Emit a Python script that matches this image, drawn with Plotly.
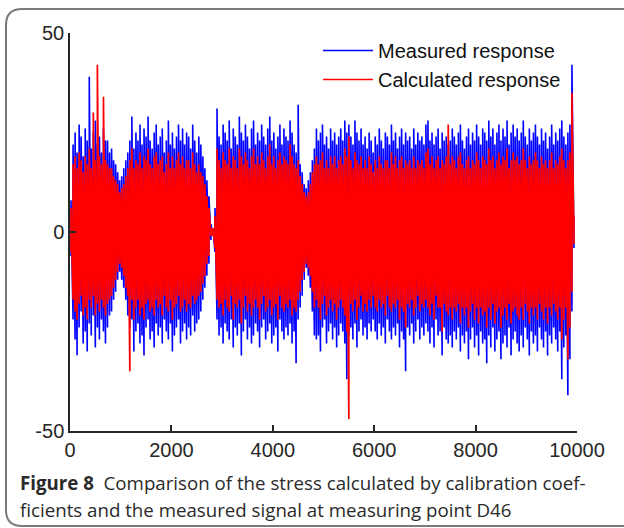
import plotly.graph_objects as go

# Each column covers 40 samples of the record; per column the highest and
# lowest value of each signal.
column_width = 40

measured_hi = [
    8, 22, 25, 20, 27, 24, 19, 26, 23, 39, 21, 25, 28, 22, 24, 20, 26, 23,
    23, 20, 21, 18, 17, 15, 13, 14, 16, 18,
    20, 23, 29, 21,
    25, 23, 27, 22, 26, 24, 29, 23, 21, 25, 27, 22, 24, 26, 20, 23, 28, 22, 25, 21, 24, 27, 23, 26, 22, 25, 24, 21,
    27, 23, 20,
    24, 22, 19, 16, 13, 9,
    2, 1, 6,
    31, 24, 22, 27, 25, 23, 28, 21, 26, 24, 22, 29, 25, 23, 27, 24, 21, 26, 28, 22, 25, 23, 27, 24, 22, 26, 29, 23,
    25, 21, 24, 27, 22, 26, 24, 23, 28, 25,
    22, 20, 32, 17, 15, 12,
    11, 13,
    15, 18, 21, 26,
    23, 25, 27, 22, 24, 21, 26, 23, 25, 22, 24, 26, 23, 28, 25, 27, 24, 22, 28, 25, 23, 26, 22, 24, 21, 25, 23, 20,
    24, 22, 26, 23, 21, 25, 24, 22, 27, 23, 25, 21, 24, 26, 22, 25, 23, 24, 21, 26, 22, 25, 23, 24, 22, 27, 28, 23,
    25, 22, 24, 26, 21, 25, 23, 24, 22,
    23, 26, 24, 22, 25, 27, 23, 21, 24, 26, 22, 25, 23, 27, 24, 22, 26, 25, 23, 28, 24, 26, 22, 25, 27, 23, 26, 24,
    28, 22, 25, 27, 24, 26, 23, 25, 28, 24, 22, 26, 23, 25, 27, 24, 22, 26, 23, 25, 21, 24, 27, 22, 25, 23, 26, 28,
    24, 22, 25, 27, 42, 4,
]
measured_lo = [
    -6, -22, -27, -31, -24, -20, -28, -25, -30, -23, -26, -21, -29, -24, -27, -22, -25, -28,
    -24, -21, -20, -17, -15, -12, -10, -12, -14, -17,
    -21, -24, -22, -30,
    -25, -23, -28, -26, -31, -24, -22, -27, -25, -29, -23, -26, -24, -28, -22, -25, -27, -23, -30, -26, -24, -22,
    -28, -25, -23, -27, -24, -26, -21, -25, -23,
    -22, -20, -17, -14, -11, -8,
    -2, -1, -5,
    -22, -26, -24, -28, -23, -25, -27, -22, -29, -24, -26, -23, -31, -25, -22, -27, -24, -28, -26, -23, -25, -29,
    -24, -22, -27, -25, -23, -28, -26, -24, -30, -22, -25, -27, -24, -26, -23, -28,
    -25, -33, -22, -19, -16, -12,
    -9, -11,
    -14, -20, -26, -27,
    -26, -30, -24, -22, -28, -25, -23, -27, -24, -29, -26, -23, -25, -28, -37, -26, -24, -27, -23, -29, -25, -22,
    -26, -24, -27, -23, -25, -22,
    -25, -27, -23, -26, -24, -28, -22, -25, -27, -24, -26, -23, -29, -25, -27, -35, -24, -26, -23, -28, -25, -22,
    -27, -24, -26, -23, -25, -28, -24, -29, -22, -26, -25, -31, -24, -27, -28,
    -26, -29, -25, -27, -24, -30, -26, -28, -25, -32, -27, -24, -29, -26, -31, -25, -28, -27, -33, -26, -29, -24,
    -30, -27, -25, -32, -28, -26, -29, -24, -31, -27, -25, -28, -30, -26, -29, -24, -27, -31, -25, -28, -26, -30,
    -24, -27, -29, -25, -31, -26, -28, -24, -27, -30, -25, -37, -29, -26, -41, -32, -20, -4,
]
calculated_hi = [
    6, 17, 19, 16, 20, 18, 15, 19, 17, 21, 16, 30, 18, 42, 19, 17, 34, 18,
    17, 16, 16, 14, 13, 12, 10, 11, 12, 14,
    16, 18, 21, 16,
    18, 17, 20, 16, 19, 18, 21, 17, 16, 19, 20, 17, 18, 19, 15, 17, 20, 16, 19, 16, 18, 20, 17, 19, 16, 18, 18, 16,
    20, 17, 15,
    17, 15, 14, 12, 9, 6,
    1, 1, 4,
    21, 18, 16, 20, 18, 17, 21, 16, 19, 18, 16, 21, 19, 17, 20, 18, 16, 19, 21, 17, 19, 17, 20, 18, 16, 19, 22, 17,
    19, 16, 18, 20, 17, 19, 18, 17, 22, 19,
    17, 16, 18, 14, 12, 10,
    9, 10,
    12, 15, 17, 19,
    17, 18, 20, 16, 18, 16, 19, 17, 19, 16, 18, 19, 17, 21, 19, 24, 18, 16, 20, 18, 17, 19, 16, 18, 16, 19, 17, 15,
    18, 16, 19, 17, 16, 18, 18, 16, 20, 17, 19, 16, 18, 19, 16, 18, 17, 18, 16, 19, 16, 18, 17, 18, 16, 20, 21, 17,
    19, 16, 18, 19, 16, 18, 17, 19, 27,
    17, 19, 18, 16, 19, 20, 17, 16, 18, 19, 16, 18, 17, 20, 18, 16, 19, 18, 17, 21, 18, 19, 16, 18, 20, 17, 19, 18,
    21, 16, 18, 20, 18, 19, 17, 18, 21, 18, 16, 19, 17, 18, 20, 18, 16, 19, 17, 18, 16, 18, 20, 16, 18, 17, 19, 21,
    18, 16, 18, 20, 35, 4,
]
calculated_lo = [
    -5, -17, -20, -22, -18, -16, -21, -19, -22, -17, -19, -16, -21, -18, -20, -17, -19, -21,
    -18, -17, -16, -14, -12, -10, -8, -9, -11, -14,
    -16, -35, -17, -22,
    -19, -17, -21, -19, -22, -18, -17, -20, -19, -21, -17, -19, -18, -21, -16, -19, -20, -17, -22, -19, -18, -16,
    -20, -19, -17, -20, -18, -19, -16, -18, -17,
    -16, -15, -13, -11, -8, -6,
    -1, -1, -4,
    -17, -19, -18, -21, -17, -19, -20, -16, -22, -18, -19, -17, -23, -19, -16, -20, -18, -21, -19, -17, -19, -22,
    -18, -16, -20, -19, -17, -21, -19, -18, -22, -16, -19, -20, -18, -19, -17, -21,
    -19, -20, -17, -15, -12, -10,
    -8, -9,
    -11, -15, -19, -17,
    -19, -22, -18, -16, -21, -19, -17, -20, -18, -22, -19, -17, -19, -21, -25, -47, -18, -20, -17, -22, -19, -16,
    -20, -18, -20, -17, -19, -16,
    -19, -20, -17, -19, -18, -21, -16, -19, -20, -18, -19, -17, -22, -19, -20, -24, -18, -19, -17, -21, -19, -16,
    -20, -18, -19, -17, -19, -21, -18, -22, -16, -19, -19, -25, -18, -20, -21,
    -19, -22, -19, -20, -18, -23, -19, -21, -19, -24, -20, -18, -22, -19, -23, -19, -21, -20, -24, -19, -22, -18,
    -23, -20, -19, -24, -21, -19, -22, -18, -23, -20, -19, -21, -22, -19, -22, -18, -20, -23, -19, -21, -19, -22,
    -18, -20, -22, -19, -23, -19, -21, -18, -20, -22, -19, -27, -22, -19, -32, -24, -15, -3,
]

x_ticks = [0, 2000, 4000, 6000, 8000, 10000]
y_ticks = [-50, 0, 50]
series_names = ["Measured response", "Calculated response"]
caption_bold = "Figure 8"
caption_line1 = "Comparison of the stress calculated by calibration coef-"
caption_line2 = "ficients and the measured signal at measuring point D46"


def column_trace(hi, lo):
    """Each column: a stroke up from its low to its high value, then on to the next low."""
    xs, ys = [], []
    for k, (h, l) in enumerate(zip(hi, lo)):
        xc = column_width * k + column_width / 2
        xs += [xc, xc]
        ys += [l, h]
    return xs, ys


xm, ym = column_trace(measured_hi, measured_lo)
xc, yc = column_trace(calculated_hi, calculated_lo)

fig = go.Figure()
fig.add_trace(go.Scatter(x=xm, y=ym, mode="lines", name=series_names[0],
                         line=dict(color="#0000ff", width=1.6)))
fig.add_trace(go.Scatter(x=xc, y=yc, mode="lines", name=series_names[1],
                         line=dict(color="#ff0000", width=1.7)))

# plot area in pixels: x 70..577, y 33..431
L, R, T, B = 70, 577, 33, 431
W, H = 624, 528


def px(xp):
    return (xp - L) / (R - L)


def py(yp):
    return (B - yp) / (B - T)


# rounded frame around the figure
fx0, fx1 = px(6), px(660)
fy0, fy1 = py(9), py(526)
rx, ry = 16 / (R - L), 16 / (B - T)
path = (f"M {fx1},{fy0} L {fx0 + rx},{fy0} Q {fx0},{fy0} {fx0},{fy0 - ry} "
        f"L {fx0},{fy1 + ry} Q {fx0},{fy1} {fx0 + rx},{fy1} L {fx1},{fy1}")
fig.add_shape(type="path", path=path, xref="paper", yref="paper",
              line=dict(color="#7a7a7a", width=2))

cap_font = dict(family="Open Sans", size=18.7, color="#2a2a2a")
fig.add_annotation(xref="paper", yref="paper", x=px(18), y=py(482), xanchor="left", yanchor="middle",
                   text=f"<b>{caption_bold}</b>&nbsp;&nbsp;{caption_line1}", showarrow=False, font=cap_font)
fig.add_annotation(xref="paper", yref="paper", x=px(18), y=py(509), xanchor="left", yanchor="middle",
                   text=caption_line2, showarrow=False, font=cap_font)

axis_common = dict(showgrid=False, zeroline=False, showline=True, linecolor="#262626", linewidth=1.5,
                   ticks="inside", ticklen=6, tickwidth=1.5, tickcolor="#262626",
                   tickfont=dict(family="Liberation Sans, Arial", size=20, color="#262626"))

fig.update_xaxes(range=[0, 10000], tickvals=x_ticks, ticktext=[str(v) for v in x_ticks], **axis_common)
fig.update_yaxes(range=[-50, 50], tickvals=y_ticks, ticktext=[str(v) for v in y_ticks], **axis_common)

fig.update_layout(
    width=W, height=H,
    margin=dict(l=L, r=W - R, t=T, b=H - B, pad=0),
    paper_bgcolor="white", plot_bgcolor="white",
    showlegend=True,
    legend=dict(x=px(318), y=py(31), xanchor="left", yanchor="top",
                bgcolor="rgba(0,0,0,0)", font=dict(family="Liberation Sans, Arial", size=20, color="#111111"),
                tracegroupgap=0, itemwidth=50),
)

fig.write_html("out.html", config={"displayModeBar": False},
               post_script="document.body.style.margin='0';document.body.style.padding='0';")
